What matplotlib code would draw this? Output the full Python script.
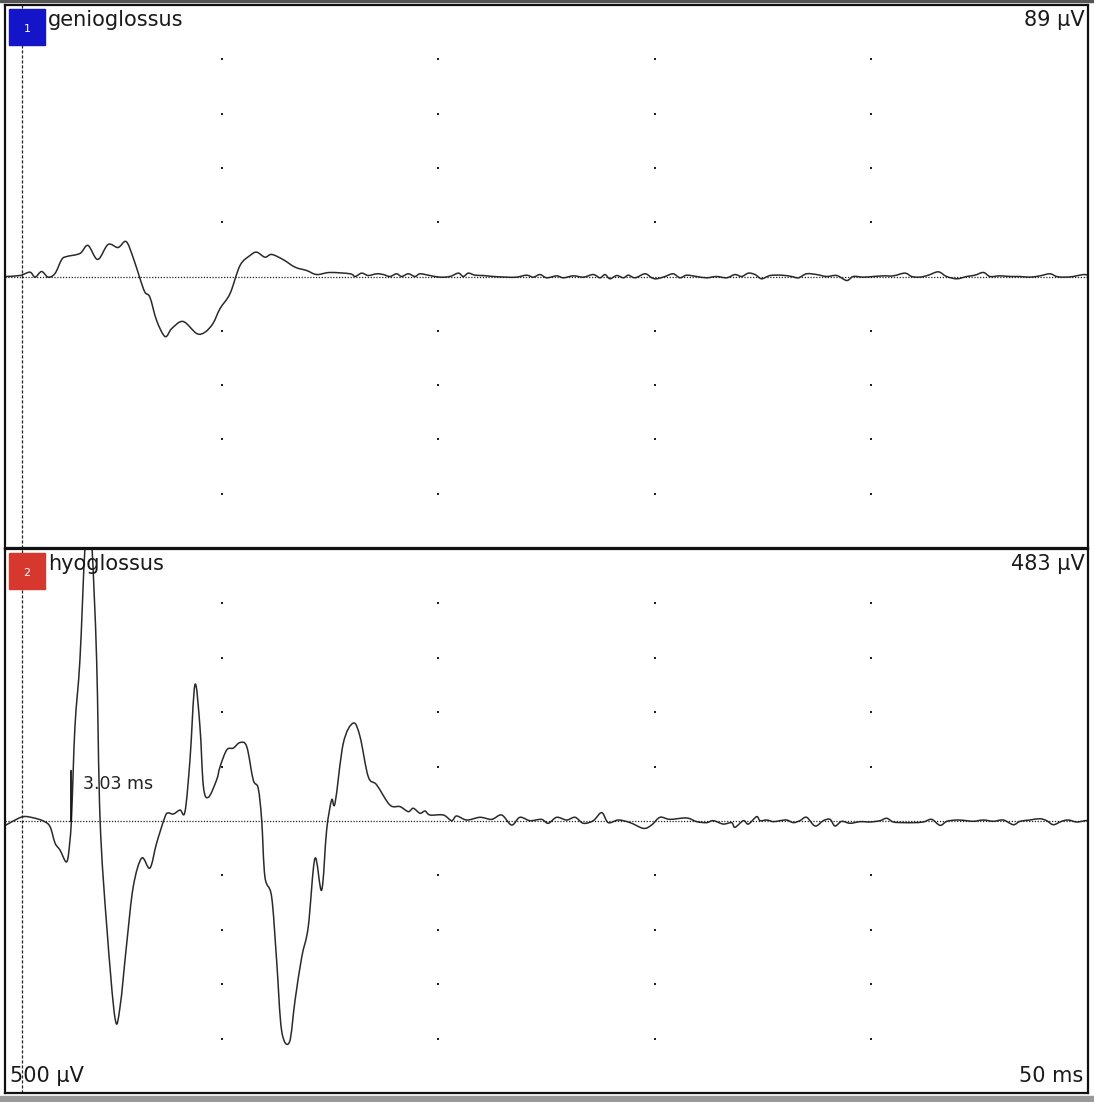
import numpy as np
import matplotlib
matplotlib.use("Agg")
import matplotlib.pyplot as plt
from matplotlib.patches import Rectangle, PathPatch
from matplotlib.path import Path

plt.rcParams['font.family'] = ['DejaVu Sans']

# time (ms) and amplitude (uV)
genio_t = [0.00, 0.69, 1.15, 1.39, 1.69, 1.99, 2.31, 2.62, 2.85, 3.46, 3.83, 4.28, 4.76,
           5.22, 5.59, 5.91, 6.23, 6.46, 6.69, 7.00, 7.39, 7.70, 8.22, 8.85, 9.23, 9.60,
           9.93, 10.39, 10.85, 11.31, 11.62, 12.00, 12.31, 12.83, 13.39, 13.93, 14.39, 15.00,
           15.93, 16.16, 16.47, 16.77, 17.16, 17.47, 17.77, 18.08, 18.31, 18.62, 18.93, 19.16,
           19.62, 20.08, 20.54, 20.93, 21.16, 21.39, 21.70, 22.08, 22.55, 23.16, 23.62, 24.08,
           24.39, 24.70, 25.01, 25.47, 25.78, 26.24, 26.70, 27.16, 27.47, 27.70, 27.93, 28.24,
           28.55, 28.78, 29.09, 29.55, 29.86, 30.09, 30.47, 30.85, 31.16, 31.47, 31.93, 32.39,
           32.85, 33.32, 33.70, 34.01, 34.32, 34.63, 34.93, 35.32, 35.86, 36.32, 36.63, 37.01,
           37.47, 37.93, 38.40, 38.86, 39.16, 39.62, 40.09, 40.55, 41.01, 41.55, 41.86, 42.24,
           42.63, 43.09, 43.47, 43.94, 44.40, 44.78, 45.17, 45.48, 45.94, 46.40, 46.86, 47.32,
           47.78, 48.24, 48.55, 48.86, 49.32, 49.78, 50.00]
genio_uv = [0, 0.9, 4.0, -0.6, 4.6, -0.6, 2.8, 15.7, 18.4, 21.2, 28.6, 15.7, 29.5,
            26.7, 32.2, 17.8, -1.8, -14.5, -19.1, -40.5, -55.3, -47.9, -41.4, -52.5, -51.3, -43.3,
            -29.5, -15.7, 10.1, 19.3, 22.4, 17.8, 20.3, 15.7, 8.6, 5.5, 1.8, 3.7,
            2.5, 0, 3.1, 0.9, 2.5, 1.8, 0, 2.5, 0, 2.5, 0, 2.5,
            0.9, -0.6, 0, 3.1, 0, 3.1, 1.2, 0.9, 0, -0.6, -0.6, 1.2,
            -0.6, 1.8, -1.2, 0.6, -1.2, 0.6, -0.6, 1.8, -1.2, 1.8, -2.1, 0.9,
            -1.2, 1.2, -1.2, 2.5, -1.2, -2.1, 0, 2.5, -1.2, 1.2, 0, -1.2,
            0, -1.2, 1.8, 0, 3.1, 1.8, -2.1, 0.9, 1.2, 0, -1.2, 2.5,
            1.8, 0, 0.9, -3.7, 0, -0.6, 0, 0.6, 0.6, 3.1, 0, -0.6,
            1.2, 4.3, 0, -2.1, 0, 1.2, 3.7, 0, 0.6, 0, 0, -0.6,
            0.6, 2.5, 0, -0.6, 0, 1.8, 1.2]

hyo_t = [0.00, 0.38, 0.84, 1.29, 1.77, 2.08, 2.31, 2.54, 2.85, 3.00, 3.08, 3.23, 3.46,
         3.69, 3.88, 4.02, 4.23, 4.39, 4.70, 5.08, 5.31, 5.62, 5.92, 6.31, 6.69, 7.00,
         7.39, 7.54, 7.77, 8.08, 8.31, 8.54, 8.77, 9.00, 9.16, 9.39, 9.77, 9.93, 10.24,
         10.54, 10.85, 11.16, 11.46, 11.69, 11.85, 12.00, 12.31, 12.54, 12.77, 13.13, 13.39,
         13.70, 14.00, 14.31, 14.62, 14.85, 15.08, 15.24, 15.62, 16.08, 16.39, 16.77, 17.16,
         17.77, 18.24, 18.62, 18.85, 19.16, 19.39, 19.62,
         20.24, 20.62, 20.85, 21.32, 21.93, 22.47, 22.93, 23.39, 23.77, 24.24, 24.77, 25.08,
         25.47, 25.93, 26.32, 26.70, 27.16, 27.55, 27.85, 28.32, 28.86, 29.48, 29.85, 30.24,
         30.70, 31.47, 31.93, 32.39, 32.70, 33.16, 33.55, 33.70, 34.09, 34.32, 34.70,
         34.86, 35.17, 35.47, 35.78, 36.09, 36.40, 36.70, 37.01, 37.40, 37.78, 38.09, 38.32,
         38.63, 39.01, 39.48, 39.94, 40.40, 40.71, 41.01, 41.48, 41.94, 42.40, 42.78, 43.17,
         43.48, 43.94, 44.40, 44.71, 45.17, 45.63, 46.09, 46.55, 46.86, 47.32, 47.78, 48.09,
         48.40, 48.78, 49.09, 49.48, 49.86, 50.00]
hyo_uv = [-4.3, 0, 4.0, 3.0, 0, -5.2, -20.3, -26.7, -37.5, -17.5, 7.4, 86.8, 148.3,
          250.5, 279.0, 250.5, 148.3, 0.9, -97.3, -181.4, -171.0, -112.4, -60.5, -34.1, -43.3, -20.3,
          4.0, 7.4, 6.4, 10.1, 8.6, 56.2, 125.3, 86.8, 31.6, 21.8, 37.8, 50.0, 65.4,
          67.0, 72.1, 68.4, 37.8, 30.1, 0.9, -51.3, -69.7, -128.0, -192.5, -203.3, -164.9,
          -125.0, -97.3, -34.4, -63.5, -8.3, 19.3, 16.6, 71.6, 90.0, 77.6, 40.8, 33.2,
          14.7, 13.2, 8.6, 11.7, 7.1, 9.2, 5.5,
          5.5, 0.3, 4.6, 0.9, 3.4, 1.5, 5.5, -3.7, 3.4, 0.3, 1.5, -2.1,
          3.4, 0.9, 3.4, -2.1, 0.3, 7.7, -1.5, 0.9, -1.5, -6.8, -3.7, 3.4,
          1.5, 2.8, -0.6, -1.5, 0.3, -2.8, -1.5, -5.8, 0.3, -2.8, 4.0,
          0.3, 0.9, -0.6, 0.3, 0.9, -1.5, 0.3, 3.4, -4.6, 0.3, 1.5, -4.6,
          -0.3, -2.1, -0.6, -0.9, 0.3, 2.5, -0.9, -1.5, -1.5, -0.9, 1.5, -4.0,
          -0.3, 0.9, 0.3, -0.3, 0.9, -0.3, 0.9, -3.4, -0.3, 0.9, 2.1, 0.3,
          -3.4, -0.3, 0.9, -0.9, 0.3, 0.3]

channels = ["genioglossus", "hyoglossus"]
ch_colors = ["#1414c8", "#d6382e"]
ch_amplitude = ["89 µV", "483 µV"]
latency_ms = 3.03
stim_ms = 0.78
sweep_ms = 50
full_scale_uv = 500


def smooth_path(x, y):
    # catmull-rom through the read points, drawn as cubic bezier segments
    p = np.column_stack([x, y])
    p = np.vstack([p[0], p, p[-1]])
    verts = [p[1]]
    codes = [Path.MOVETO]
    for k in range(1, len(p) - 2):
        c1 = p[k] + (p[k + 1] - p[k - 1]) / 6
        c2 = p[k + 1] - (p[k + 2] - p[k]) / 6
        verts += [c1, c2, p[k + 1]]
        codes += [Path.CURVE4] * 3
    return Path(verts, codes)


W, H = 1094, 1102
fig = plt.figure(figsize=(W / 100, H / 100), dpi=100)

# frame strips at top and bottom of the window
fig.patches.append(Rectangle((0, 1 - 2 / H), 1, 2 / H, transform=fig.transFigure,
                             color="#555555", zorder=0))
fig.patches.append(Rectangle((0, 0), 1, 6 / H, transform=fig.transFigure,
                             color="#9a9a9a", zorder=0))

panels = [(5, 548), (549, 1093)]
traces = [(genio_t, genio_uv), (hyo_t, hyo_uv)]

for i, ((top, bot), (t, uv)) in enumerate(zip(panels, traces)):
    ax = fig.add_axes([5 / W, 1 - bot / H, 1083 / W, (bot - top) / H])
    ax.set_xlim(0, sweep_ms)
    ax.set_ylim(-full_scale_uv / 2, full_scale_uv / 2)
    ax.set_xticks([])
    ax.set_yticks([])
    for s in ax.spines.values():
        s.set_linewidth(1.6)
        s.set_color("#111111")

    # dot grid: 10 ms x 50 uV divisions
    gx, gy = np.meshgrid([10, 20, 30, 40], [-200, -150, -100, -50, 50, 100, 150, 200])
    ax.scatter(gx.ravel(), gy.ravel(), s=2.5, c="#222222", marker="s", linewidths=0)

    ax.axhline(0, color="#222222", lw=0.9, ls=(0, (1, 1.3)))
    ax.axvline(stim_ms, color="#222222", lw=0.9, ls=(0, (2.5, 1.5)))

    ax.add_patch(PathPatch(smooth_path(t, uv), fill=False, edgecolor="#2a2a2a",
                           lw=1.1, joinstyle="round", capstyle="round"))

    # channel badge + labels
    fig.patches.append(Rectangle((9 / W, 1 - (top + 40) / H), 36 / W, 36 / H,
                                 transform=fig.transFigure, color=ch_colors[i], zorder=5))
    fig.text(27 / W, 1 - (top + 24) / H, str(i + 1), color="white", fontsize=8,
             ha="center", va="center", zorder=6)
    fig.text(48 / W, 1 - (top + 15) / H, channels[i], fontsize=15, color="#1a1a1a",
             ha="left", va="center")
    fig.text(1085 / W, 1 - (top + 15) / H, ch_amplitude[i], fontsize=15, color="#1a1a1a",
             ha="right", va="center")

    if i == 1:
        ax.plot([latency_ms, latency_ms], [0, 46], color="#111111", lw=1.3)
        ax.text(latency_ms + 0.55, 34, "3.03 ms", fontsize=12.5, color="#222222",
                ha="left", va="center")

fig.text(10 / W, 1 - 1076 / H, "500 µV", fontsize=15, color="#1a1a1a", ha="left", va="center")
fig.text(1083 / W, 1 - 1076 / H, "50 ms", fontsize=15, color="#1a1a1a", ha="right", va="center")

fig.savefig("out.png", dpi=100)
